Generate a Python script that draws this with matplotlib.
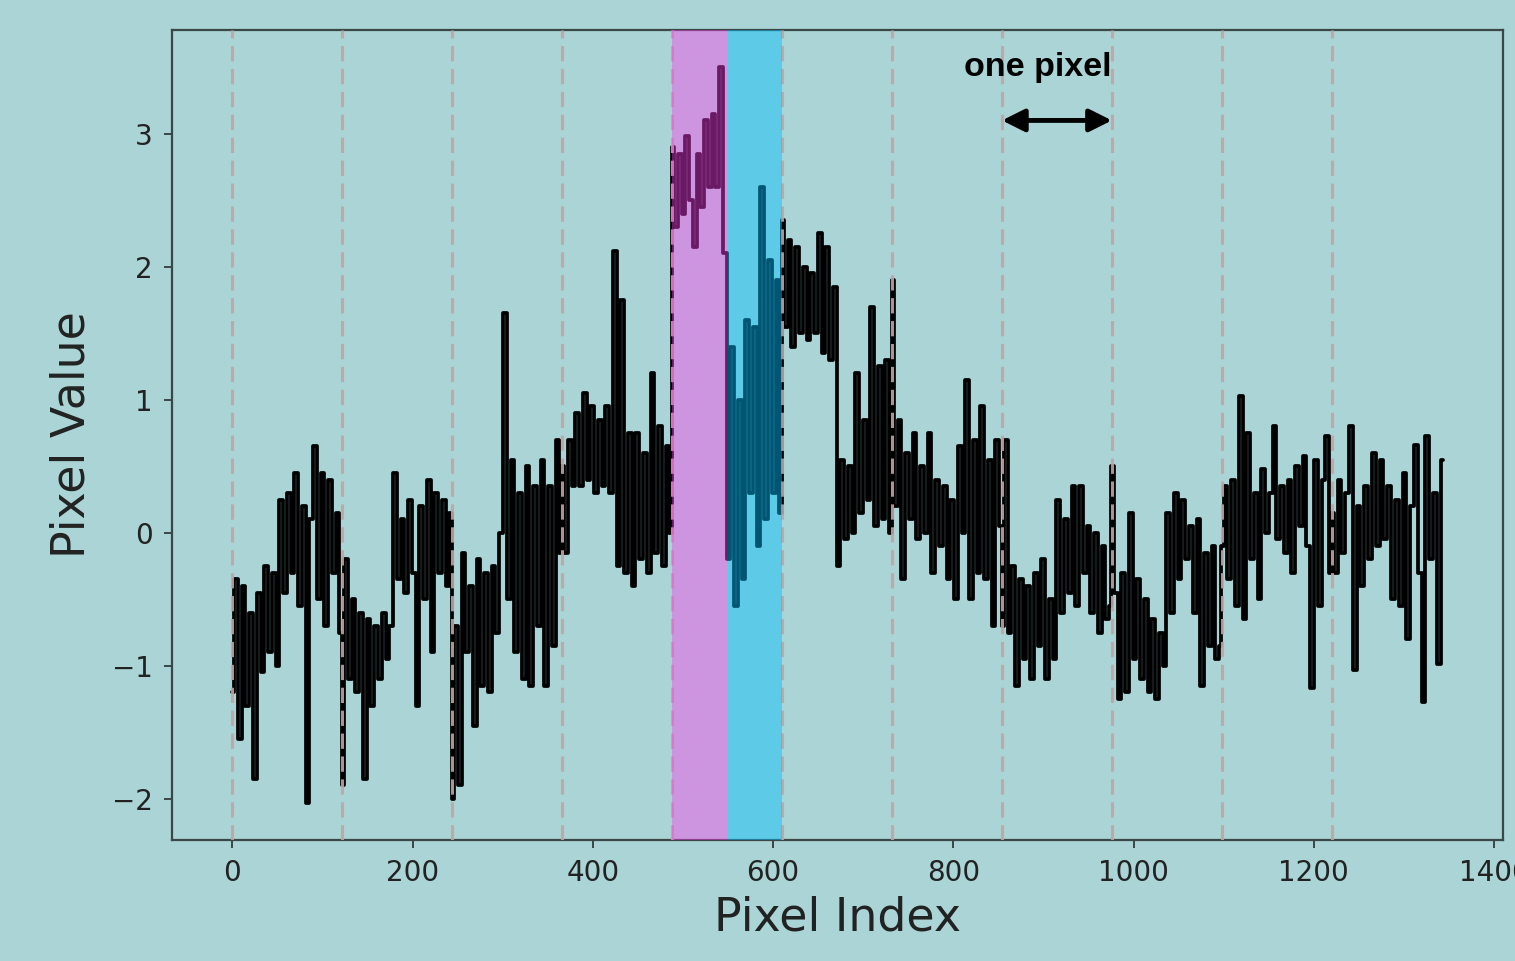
import numpy as np
import matplotlib
matplotlib.use("Agg")
import matplotlib.pyplot as plt
from matplotlib.patches import FancyArrowPatch

# ---- data ----
# segment boundaries in pixel-index units (each "pixel" = 122 samples)
segment_starts = [0, 122, 244, 366, 488, 610, 732, 854, 976, 1098, 1220]
segment_ends = [121, 243, 365, 487, 609, 731, 853, 975, 1097, 1219, 1343]

seg0 = [-1.2, -0.35, -1.55, -0.4, -1.3, -0.6, -1.85, -0.45, -1.05, -0.25,
        -0.9, -0.3, -1.0, 0.25, -0.45, 0.3, -0.3, 0.45, -0.55, 0.2,
        -2.03, 0.1, 0.65, -0.5, 0.45, -0.7, 0.4, -0.3, 0.15, -0.75]
seg1 = [-1.9, -0.2, -1.1, -0.5, -1.2, -0.6, -1.85, -0.65, -1.3, -0.7,
        -1.1, -0.6, -0.95, -0.7, 0.45, -0.35, 0.1, -0.45, 0.25, -0.3,
        -1.3, 0.2, -0.5, 0.4, -0.9, 0.3, -0.3, 0.25, -0.4, 0.15]
seg2 = [-2.0, -0.7, -1.9, -0.15, -0.9, -0.4, -1.45, -0.2, -1.15, -0.3,
        -1.2, -0.25, -0.75, 0.0, 1.65, -0.5, 0.55, -0.9, 0.3, -1.1,
        0.5, -1.15, 0.35, -0.7, 0.55, -1.15, 0.35, -0.85, 0.7, -0.15]
seg3 = [0.5, -0.15, 0.7, 0.35, 0.9, 0.35, 1.05, 0.4, 0.95, 0.3,
        0.85, 0.35, 0.95, 0.3, 2.12, -0.25, 1.75, -0.3, 0.75, -0.4,
        0.75, -0.2, 0.6, -0.3, 1.2, -0.15, 0.8, -0.25, 0.65, 0.0]
seg4 = [2.9, 2.3, 2.85, 2.4, 2.98, 2.5, 2.15, 2.85, 2.45, 3.1,
        2.6, 3.15, 2.6, 3.5, 2.1, -0.2, 1.4, -0.55, 1.0, -0.35,
        1.6, 0.3, 1.55, -0.1, 2.6, 0.1, 2.05, 0.3, 1.9, 0.15]
seg5 = [2.35, 1.55, 2.2, 1.4, 2.15, 1.5, 2.0, 1.45, 1.95, 1.5,
        2.25, 1.35, 2.15, 1.3, 1.85, -0.25, 0.55, -0.05, 0.5, 0.0,
        1.2, 0.15, 0.85, 0.25, 1.7, 0.05, 1.25, 0.1, 1.3, 0.0]
seg6 = [1.9, 0.2, 0.85, -0.35, 0.6, 0.1, 0.75, -0.05, 0.5, 0.0,
        0.75, -0.3, 0.4, -0.1, 0.35, -0.35, 0.25, -0.5, 0.65, 0.0,
        1.15, -0.5, 0.7, -0.3, 0.95, -0.35, 0.55, -0.7, 0.7, 0.05]
seg7 = [-0.7, 0.7, -0.75, -0.25, -1.15, -0.35, -0.95, -0.4, -1.1, -0.3,
        -0.85, -0.2, -1.1, -0.5, -0.95, 0.25, -0.6, 0.1, -0.45, 0.35,
        -0.55, 0.35, -0.3, 0.05, -0.6, 0.0, -0.75, -0.1, -0.65, -0.55]
seg8 = [0.5, -0.45, -1.25, -0.3, -1.2, 0.15, -0.95, -0.35, -1.1, -0.5,
        -1.2, -0.65, -1.25, -0.75, -1.0, 0.15, -0.6, 0.3, -0.35, 0.25,
        -0.2, 0.05, -0.6, 0.1, -1.15, -0.15, -0.85, -0.1, -0.95, -0.85]
seg9 = [-0.1, 0.35, -0.35, 0.4, -0.55, 1.03, -0.65, 0.75, -0.2, 0.3,
        -0.5, 0.48, 0.0, 0.3, 0.8, -0.05, 0.35, -0.15, 0.4, -0.3,
        0.5, 0.05, 0.58, -0.1, -1.17, 0.55, -0.55, 0.4, 0.73, -0.3]
seg10 = [0.15, -0.3, 0.4, -0.15, 0.3, 0.8, -1.03, 0.2, -0.4, 0.35,
         -0.2, 0.6, -0.1, 0.55, -0.05, 0.35, -0.5, 0.25, -0.55, 0.45,
         -0.8, 0.2, 0.66, -0.3, -1.27, 0.73, -0.2, 0.3, -0.99, 0.55]
segments = [seg0, seg1, seg2, seg3, seg4, seg5, seg6, seg7, seg8, seg9, seg10]

pixel_boundaries = [0, 122, 244, 366, 488, 610, 732, 854, 976, 1098, 1220]
magenta_span = (488, 549)
cyan_span = (549, 610)
arrow_span = (854, 976)
arrow_y = 3.1
label_text = "one pixel"
label_pos = (894, 3.5)

# ---- build series ----
xs, ys = [], []
for s, e, vals in zip(segment_starts, segment_ends, segments):
    xs.append(np.linspace(s, e, len(vals)))
    ys.append(np.array(vals))
x = np.concatenate(xs)
y = np.concatenate(ys)

bg = "#AAD4D5"
fig = plt.figure(figsize=(15.15, 9.61), dpi=100, facecolor=bg)
ax = fig.add_axes([0.1135, 0.1259, 0.8786, 0.8429])
ax.set_facecolor("none")

ax.plot(x, y, color="black", lw=2.7, drawstyle="steps-mid",
        solid_joinstyle="round", solid_capstyle="round", zorder=2)

for b in pixel_boundaries:
    ax.axvline(b, color="#C4A2A4", lw=2.2, alpha=0.9,
               linestyle=(0, (5, 2.5)), zorder=3)

ax.axvspan(*magenta_span, color="#FF3CF0", alpha=0.42, lw=0, zorder=4)
ax.axvspan(*cyan_span, color="deepskyblue", alpha=0.45, lw=0, zorder=4)

arrow = FancyArrowPatch((arrow_span[0], arrow_y), (arrow_span[1], arrow_y),
                        arrowstyle="<|-|>", mutation_scale=34, lw=3.5,
                        color="black", shrinkA=0, shrinkB=0, zorder=5)
ax.add_patch(arrow)
ax.text(label_pos[0], label_pos[1], label_text, ha="center", va="center",
        fontsize=24.5, fontweight="bold", family="Liberation Sans", zorder=5)

ax.set_xlim(-67, 1410)
ax.set_ylim(-2.31, 3.78)
ax.set_xticks([0, 200, 400, 600, 800, 1000, 1200, 1400])
ax.set_yticks([-2, -1, 0, 1, 2, 3])

for sp in ax.spines.values():
    sp.set_color("#3B4646")
    sp.set_linewidth(1.6)
ax.tick_params(axis="both", labelsize=20, colors="#3B4646", labelcolor="#222222",
               length=6, width=1.4, pad=8)
ax.set_xlabel("Pixel Index", fontsize=33, color="#222222", labelpad=6)
ax.set_ylabel("Pixel Value", fontsize=33, color="#222222", labelpad=12)

fig.savefig("out.png", dpi=100, facecolor=bg)
